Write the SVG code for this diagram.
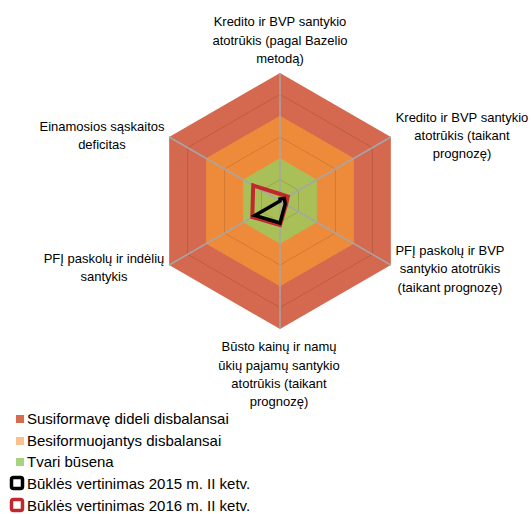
<svg xmlns="http://www.w3.org/2000/svg" width="531" height="514" viewBox="0 0 531 514">
<style>
text{font-family:"Liberation Sans",Arial,sans-serif;fill:#000}
.lbl{font-size:13px;text-anchor:middle}
.leg{font-size:15px}
.grid{fill:none;stroke:#000;stroke-opacity:0.12;stroke-width:1}
.axis{stroke:#A6A6A6;stroke-width:1.5}
.s{fill:none;stroke-linejoin:miter}
</style>
<rect width="531" height="514" fill="#fff"/>
<g id="bands">
<polygon id="band-red" fill="#D4694F" points="280,73 390.85,137 390.85,265 280,329 169.15,265 169.15,137"/>
<polygon id="band-orange" fill="#EE8B3B" points="280,115.67 353.9,158.33 353.9,243.67 280,286.33 206.1,243.67 206.1,158.33"/>
<polygon id="band-green" fill="#A9BF57" points="280,158.33 316.95,179.67 316.95,222.33 280,243.67 243.05,222.33 243.05,179.67"/>
</g>
<g id="gridlines">
<polygon class="grid" points="280,179.67 298.48,190.33 298.48,211.67 280,222.33 261.52,211.67 261.52,190.33"/>
<polygon class="grid" points="280,137 335.43,169 335.43,233 280,265 224.57,233 224.57,169"/>
<polygon class="grid" points="280,94.33 372.38,147.67 372.38,254.33 280,307.67 187.62,254.33 187.62,147.67"/>
</g>
<g id="connectors">
<line class="axis" x1="280" y1="201" x2="280" y2="73"/>
<line class="axis" x1="280" y1="201" x2="390.85" y2="137"/>
<line class="axis" x1="280" y1="201" x2="390.85" y2="265"/>
<line class="axis" x1="280" y1="201" x2="280" y2="329"/>
<line class="axis" x1="280" y1="201" x2="169.15" y2="265"/>
<line class="axis" x1="280" y1="201" x2="169.15" y2="137"/>
</g>
<g id="series">
<polygon id="s2016" class="s" stroke="#C0282D" stroke-width="4" points="280,194 287.8,196.5 286.1,204.5 280,225 252.3,217 253.2,185.5"/>
<polygon id="s2015" class="s" stroke="#000" stroke-width="3.5" points="280,199 284.3,198.5 285.2,204 280,223 254.9,215.5 280,201"/>
</g>
<g id="label-top">
<text class="lbl" x="280" y="26">Kredito ir BVP santykio</text>
<text class="lbl" x="280" y="45">atotrūkis (pagal Bazelio</text>
<text class="lbl" x="280" y="63">metodą)</text>
</g>
<g id="label-ur">
<text class="lbl" x="462" y="122">Kredito ir BVP santykio</text>
<text class="lbl" x="462" y="140">atotrūkis (taikant</text>
<text class="lbl" x="462" y="158">prognozę)</text>
</g>
<g id="label-lr">
<text class="lbl" x="450" y="255">PFĮ paskolų ir BVP</text>
<text class="lbl" x="450" y="273">santykio atotrūkis</text>
<text class="lbl" x="450" y="292">(taikant prognozę)</text>
</g>
<g id="label-bottom">
<text class="lbl" x="279" y="351">Būsto kainų ir namų</text>
<text class="lbl" x="279" y="370">ūkių pajamų santykio</text>
<text class="lbl" x="279" y="388">atotrūkis (taikant</text>
<text class="lbl" x="279" y="406">prognozę)</text>
</g>
<g id="label-ll">
<text class="lbl" x="104" y="263">PFĮ paskolų ir indėlių</text>
<text class="lbl" x="104" y="281">santykis</text>
</g>
<g id="label-ul">
<text class="lbl" x="102" y="131">Einamosios sąskaitos</text>
<text class="lbl" x="102" y="149">deficitas</text>
</g>
<g id="legend">
<rect x="16" y="415" width="8" height="8" fill="#D66B4D"/>
<text class="leg" x="27" y="424">Susiformavę dideli disbalansai</text>
<rect x="16" y="437" width="8" height="8" fill="#FAC090"/>
<text class="leg" x="27" y="446">Besiformuojantys disbalansai</text>
<rect x="16" y="458" width="8" height="8" fill="#A9D47F"/>
<text class="leg" x="27" y="467">Tvari būsena</text>
<rect x="11.5" y="477.5" width="11" height="11" rx="2" fill="#fff" stroke="#000" stroke-width="3.5"/>
<text class="leg" x="27" y="489">Būklės vertinimas 2015 m. II ketv.</text>
<rect x="11.5" y="499.5" width="11" height="11" rx="2" fill="#fff" stroke="#C0282D" stroke-width="3.5"/>
<text class="leg" x="27" y="511">Būklės vertinimas 2016 m. II ketv.</text>
</g>
</svg>
